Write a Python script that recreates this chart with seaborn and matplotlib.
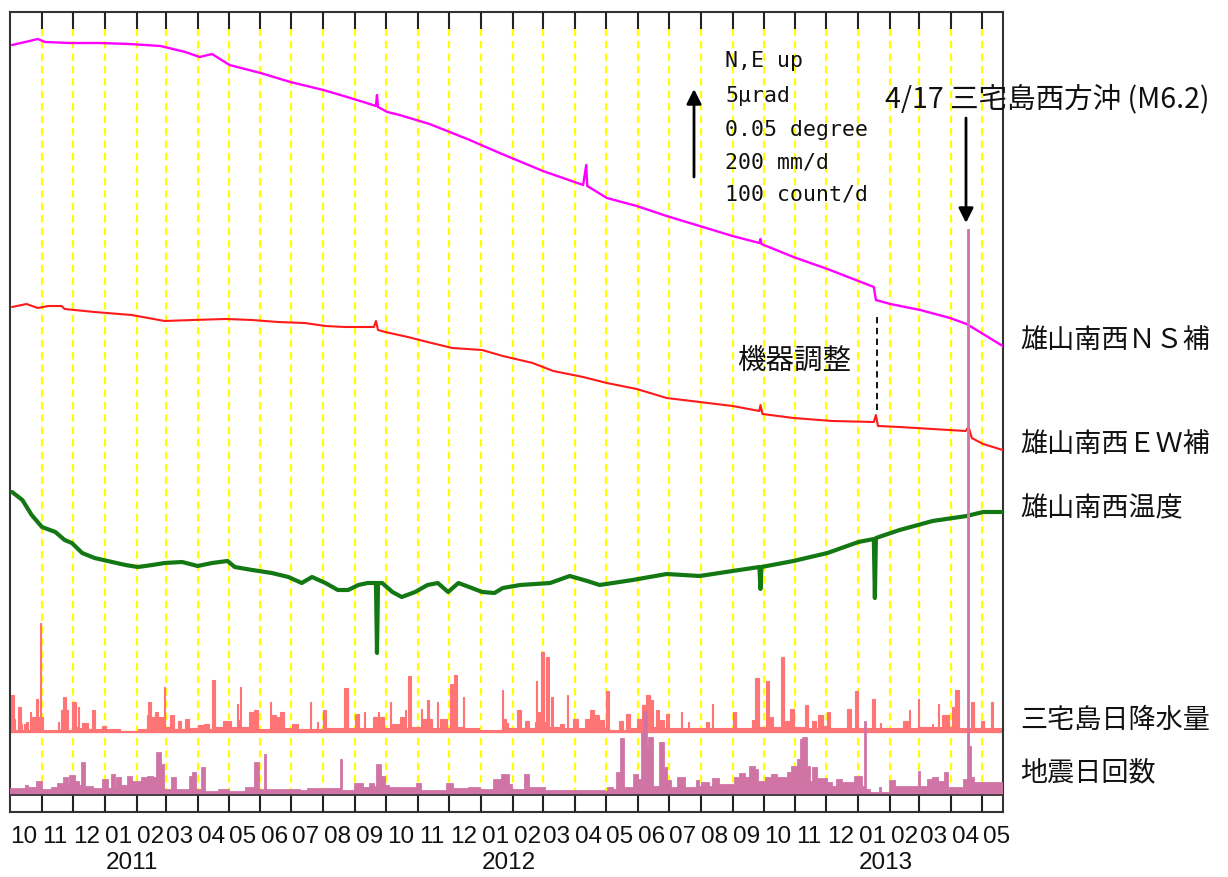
import numpy as np
import pandas as pd
import matplotlib
matplotlib.use("Agg")
import matplotlib.pyplot as plt
import seaborn as sns
from matplotlib import font_manager

sns.set_theme(style="white")
plt.rcParams["font.family"] = ["Noto Sans CJK JP", "DejaVu Sans"]

# ---------------- data (day offsets from 2010-10-01) ----------------
START = pd.Timestamp("2010-10-01")
END_DAY = 963.3

# tilt / temperature traces (chart units, 87 units = 5 urad / 0.05 degree)
ns_day = [2, 19, 27, 34, 58, 87, 116, 146, 170, 184, 196, 213, 243, 272, 304, 327, 346,
          355, 356, 357, 366, 378, 407, 446, 475, 517, 556, 559, 560, 579, 608, 637, 669,
          701, 727, 728, 729, 760, 793, 823, 838, 840, 854, 883, 912, 928, 944, 963]
ns_val = [767, 771, 773, 770, 769, 769, 768, 766, 760, 755, 758, 747, 739, 730, 722, 715, 709,
          706, 717, 705, 700, 697, 688, 672, 659, 641, 627, 647, 626, 614, 606, 596, 586,
          576, 569, 573, 568, 555, 543, 531, 525, 512, 508, 502, 494, 488, 478, 466]

ew_day = [2, 16, 27, 37, 50, 53, 82, 118, 150, 177, 209, 235, 260, 286, 306, 325, 353,
          355, 357, 364, 386, 405, 429, 458, 478, 507, 527, 556, 579, 608, 637, 669, 701,
          727, 728, 730, 760, 798, 838, 840, 842, 863, 895, 927, 930, 933, 944, 963]
ew_val = [505, 508, 504, 506, 506, 503, 500, 497, 491, 492, 493, 492, 490, 489, 486, 485, 485,
          491, 482, 480, 475, 470, 464, 462, 456, 449, 441, 435, 429, 423, 414, 410, 406,
          401, 407, 398, 394, 391, 390, 397, 386, 385, 383, 381, 385, 374, 368, 362]

tp_day = [2, 12, 21, 31, 44, 53, 60, 70, 82, 99, 112, 124, 138, 150, 167, 182, 196, 211,
          218, 235, 254, 270, 283, 293, 306, 318, 328, 338, 347, 355, 356, 357, 361, 371,
          380, 393, 405, 415, 425, 435, 448, 458, 470, 478, 495, 524, 543, 560, 572, 604,
          637, 669, 701, 727, 728, 729, 760, 793, 823, 838, 839, 840, 863, 895, 928, 944, 963]
tp_val = [320, 312, 297, 285, 280, 272, 269, 259, 254, 250, 247, 245, 247, 249, 250, 246, 249, 251,
          245, 242, 239, 235, 229, 235, 229, 222, 222, 227, 229, 229, 159, 229, 229, 220,
          215, 220, 227, 229, 220, 229, 224, 220, 219, 224, 227, 229, 236, 231, 227, 232,
          238, 236, 241, 245, 223, 245, 251, 259, 270, 273, 214, 274, 282, 291, 296, 300, 300]

# Miyakejima daily rainfall, mm/day (step segments: start day, value)
rain_start = [0, 4, 5, 8, 11, 12, 14, 15, 16, 17, 19, 20, 21, 25, 27, 29, 30, 32, 47, 48, 49, 51,
              54, 56, 60, 64, 66, 67, 70, 76, 80, 82, 89, 93, 107, 124, 133, 134, 137, 141, 144,
              149, 150, 155, 159, 163, 166, 170, 174, 182, 187, 188, 193, 196, 199, 207, 214,
              220, 221, 222, 223, 224, 232, 237, 241, 252, 253, 254, 258, 261, 262, 266, 274,
              279, 291, 292, 298, 299, 304, 307, 324, 328, 335, 336, 339, 343, 344, 352, 357,
              358, 363, 369, 370, 371, 377, 378, 382, 383, 384, 386, 389, 399, 400, 401, 405,
              406, 409, 414, 415, 417, 424, 427, 430, 431, 434, 439, 440, 455, 477, 478, 481,
              483, 492, 496, 500, 503, 509, 510, 511, 515, 518, 520, 523, 525, 527, 534, 537,
              540, 541, 546, 551, 558, 563, 567, 571, 572, 576, 578, 581, 591, 595, 598, 601,
              608, 612, 613, 617, 621, 624, 627, 630, 631, 634, 636, 639, 651, 652, 658, 659,
              675, 678, 681, 682, 701, 704, 720, 722, 723, 727, 733, 736, 740, 748, 751, 752,
              756, 757, 761, 771, 774, 778, 782, 784, 789, 793, 795, 812, 816, 820, 823, 836,
              839, 844, 845, 866, 871, 872, 873, 881, 882, 894, 895, 900, 901, 904, 911, 914,
              917, 921, 932, 935, 942, 945, 952, 954]
rain_mm = [85, 30, 5, 58, 18, 5, 18, 5, 23, 5, 46, 5, 35, 76, 35, 250, 35, 4, 23, 5, 51, 80,
           51, 5, 69, 12, 58, 10, 21, 8, 51, 7, 14, 7, 2, 7, 39, 69, 35, 46, 35,
           104, 12, 39, 7, 25, 7, 30, 9, 16, 7, 18, 7, 120, 12, 25, 12,
           64, 28, 12, 104, 12, 46, 51, 7, 69, 7, 39, 35, 7, 46, 9, 18,
           7, 69, 7, 23, 7, 51, 9, 101, 9, 39, 41, 9, 46, 9, 35, 46,
           35, 9, 69, 9, 18, 9, 35, 9, 51, 9, 129, 12, 53, 12, 30, 74,
           30, 9, 69, 9, 30, 9, 110, 9, 131, 12, 80, 9, 4, 97, 30, 21,
           9, 51, 9, 25, 9, 23, 117, 46, 184, 23, 173, 12, 80, 12, 18, 9,
           85, 9, 30, 9, 30, 51, 39, 9, 28, 9, 94, 4, 25, 4, 41, 9,
           30, 9, 62, 85, 74, 12, 51, 9, 28, 9, 41, 9, 46, 9, 23, 9,
           23, 9, 64, 9, 46, 9, 28, 9, 124, 12, 117, 35, 12, 173, 9, 25,
           9, 53, 12, 62, 9, 25, 9, 39, 14, 46, 9, 53, 9, 94, 9, 76,
           9, 21, 9, 25, 9, 51, 9, 76, 12, 18, 12, 64, 12, 39, 12, 58,
           97, 9, 69, 9, 25, 9, 69, 9]

# daily earthquake count (step segments: start day, value)
quake_start = [0, 16, 17, 26, 31, 41, 47, 52, 56, 58, 63, 67, 70, 73, 81, 90, 95, 99, 102, 104,
               108, 114, 118, 128, 134, 139, 143, 146, 149, 157, 161, 175, 178, 180, 186, 189,
               203, 212, 229, 238, 242, 247, 248, 281, 289, 321, 322, 335, 342, 349, 353, 356,
               360, 364, 368, 395, 399, 424, 430, 445, 456, 470, 477, 484, 487, 500, 503, 519,
               577, 580, 585, 589, 593, 596, 605, 609, 613, 615, 618, 620, 624, 631, 634, 637,
               641, 648, 655, 666, 668, 671, 678, 682, 688, 703, 708, 713, 718, 723, 726, 733,
               739, 744, 755, 759, 764, 767, 769, 773, 776, 779, 783, 793, 797, 802, 807, 820,
               827, 829, 830, 834, 844, 845, 854, 859, 882, 883, 891, 895, 900, 907, 910, 925,
               929, 930, 932, 935, 962]
quake_cnt = [7, 10, 8, 15, 6, 8, 13, 20, 12, 22, 15, 10, 37, 9, 7, 17, 7, 23, 9, 20,
             10, 21, 15, 20, 21, 20, 48, 35, 6, 20, 6, 21, 25, 6, 31, 4,
             6, 4, 8, 37, 6, 46, 6, 5, 7, 40, 5, 13, 8, 13, 9, 35,
             21, 10, 8, 13, 5, 13, 7, 8, 6, 17, 23, 12, 6, 23, 8, 5,
             4, 8, 6, 25, 64, 8, 23, 17, 71, 95, 55, 66, 9, 60, 31, 16,
             8, 20, 8, 16, 9, 14, 9, 18, 12, 20, 24, 20, 32, 29, 15, 20,
             23, 20, 25, 32, 40, 63, 66, 32, 15, 31, 18, 14, 9, 17, 14, 21,
             9, 84, 6, 2, 8, 2, 16, 9, 26, 9, 17, 20, 15, 25, 8, 17,
             650, 55, 20, 14, 9]

ADJUST_DAY = 840          # 機器調整
QUAKE_DAY = 929           # 2013-04-17 三宅島西方沖 (M6.2)

series_labels = ["雄山南西ＮＳ補", "雄山南西ＥＷ補", "雄山南西温度", "三宅島日降水量", "地震日回数"]
scale_lines = ["N,E up", "5μrad", "0.05 degree", "200 mm/d", "100 count/d"]
event_label = "4/17 三宅島西方沖 (M6.2)"
adjust_label = "機器調整"

# ---------------- layout ----------------
W, H = 1228, 877
SCALE = 87.0            # length of the scale arrow in chart units
RAIN_BASE = 80
QUAKE_BASE = 17
NS_C, EW_C, TP_C = "#ff00ff", "#ff1a1a", "#137813"
RAIN_C, QUAKE_C = "#ff7474", "#d074a6"

names = {f.name for f in font_manager.fontManager.ttflist}
if "Liberation Sans Narrow" in names:
    tick_font, tick_size = "Liberation Sans Narrow", 19.5
else:
    tick_font, tick_size = "Liberation Sans", 17.5
mono_font = "DejaVu Sans Mono"

fig = plt.figure(figsize=(W / 100, H / 100), dpi=100)
fig.patch.set_facecolor("white")
ax = fig.add_axes([10 / W, 65 / H, 993 / W, 800 / H])
ax.set_facecolor("white")
ax.set_xlim(0, END_DAY)
ax.set_ylim(0, 800)
ax.set_xticks([])
ax.set_yticks([])
for sp in ax.spines.values():
    sp.set_color("#333333")
    sp.set_linewidth(1.5)
    sp.set_visible(True)

months = pd.date_range("2010-10-01", "2013-05-01", freq="MS")
mdays = np.array((months - START).days, dtype=float)

ax.vlines(mdays[1:], QUAKE_BASE, 783, colors="#ffff00", linewidth=1.6,
          linestyles=[(0, (3.3, 2.3))], zorder=1)
ax.vlines(mdays[1:], 0, QUAKE_BASE, colors="#222222", linewidth=1.5, zorder=4)
ax.vlines(mdays[1:], 783, 800, colors="#222222", linewidth=1.5, zorder=4)
ax.axhline(QUAKE_BASE, color="#333333", linewidth=1.2, zorder=4)

# rainfall bars
r_start = np.array(rain_start, dtype=float)
r_width = np.diff(np.append(r_start, END_DAY))
ax.bar(r_start, np.array(rain_mm) * SCALE / 200.0, width=r_width, bottom=RAIN_BASE,
       align="edge", color=RAIN_C, edgecolor=RAIN_C, linewidth=0.8, zorder=2)
ax.axhline(RAIN_BASE, color=RAIN_C, linewidth=1.6, zorder=2)

# earthquake bars
q_start = np.array(quake_start, dtype=float)
q_width = np.diff(np.append(q_start, END_DAY))
ax.bar(q_start, np.array(quake_cnt) * SCALE / 100.0, width=q_width, bottom=QUAKE_BASE,
       align="edge", color=QUAKE_C, edgecolor=QUAKE_C, linewidth=1.3, zorder=3.5)

# traces
traces = pd.concat([
    pd.DataFrame({"day": ns_day, "val": ns_val, "s": "ns"}),
    pd.DataFrame({"day": ew_day, "val": ew_val, "s": "ew"}),
    pd.DataFrame({"day": tp_day, "val": tp_val, "s": "tp"}),
])
for key, col, lw in [("ns", NS_C, 1.7), ("ew", EW_C, 1.5), ("tp", TP_C, 3.0)]:
    d = traces[traces.s == key]
    sns.lineplot(data=d, x="day", y="val", ax=ax, color=col, linewidth=lw,
                 estimator=None, sort=False, legend=False, zorder=3)
ax.set_xlabel("")
ax.set_ylabel("")

# instrument adjustment dashed marker
ax.vlines([ADJUST_DAY + 1], 402, 496, colors="black", linewidth=1.3,
          linestyles=[(0, (3.5, 2.5))], zorder=4)


def ftext(x, y, s, **kw):
    fig.text(x / W, 1 - y / H, s, **kw)


# month / year labels
for d, m in zip(mdays, months):
    xp = 10 + d * 993 / END_DAY
    ftext(xp + 0.5, 837, m.strftime("%m"), family=tick_font, fontsize=tick_size,
          ha="left", va="center", color="#111111")
    if m.month == 1:
        ftext(xp + 0.5, 863, str(m.year), family=tick_font, fontsize=tick_size,
              ha="left", va="center", color="#111111")

# right-side labels
for lab, yp in zip(series_labels, [340, 444, 509, 720, 773]):
    ftext(1020, yp, lab, fontsize=19.5, ha="left", va="center", color="#111111")

# scale text
for s, yb in zip(scale_lines, [67, 102, 136, 169, 201]):
    ftext(725, yb, s, family=mono_font, fontsize=15.5, ha="left", va="baseline",
          color="#111111")

ftext(885, 99, event_label, fontsize=20.5, ha="left", va="center", color="#111111")
ftext(737, 361, adjust_label, fontsize=20.5, ha="left", va="center", color="#111111")

# arrows
ax.annotate("", xy=(694, H - 89), xytext=(694, H - 177), xycoords="figure pixels",
            textcoords="figure pixels",
            arrowprops=dict(arrowstyle="-|>", color="black", lw=2, mutation_scale=22,
                            shrinkA=0, shrinkB=0))
ax.annotate("", xy=(966, H - 223), xytext=(966, H - 118), xycoords="figure pixels",
            textcoords="figure pixels",
            arrowprops=dict(arrowstyle="-|>", color="black", lw=2, mutation_scale=22,
                            shrinkA=0, shrinkB=0))

fig.savefig("out.png", dpi=100, facecolor="white")
